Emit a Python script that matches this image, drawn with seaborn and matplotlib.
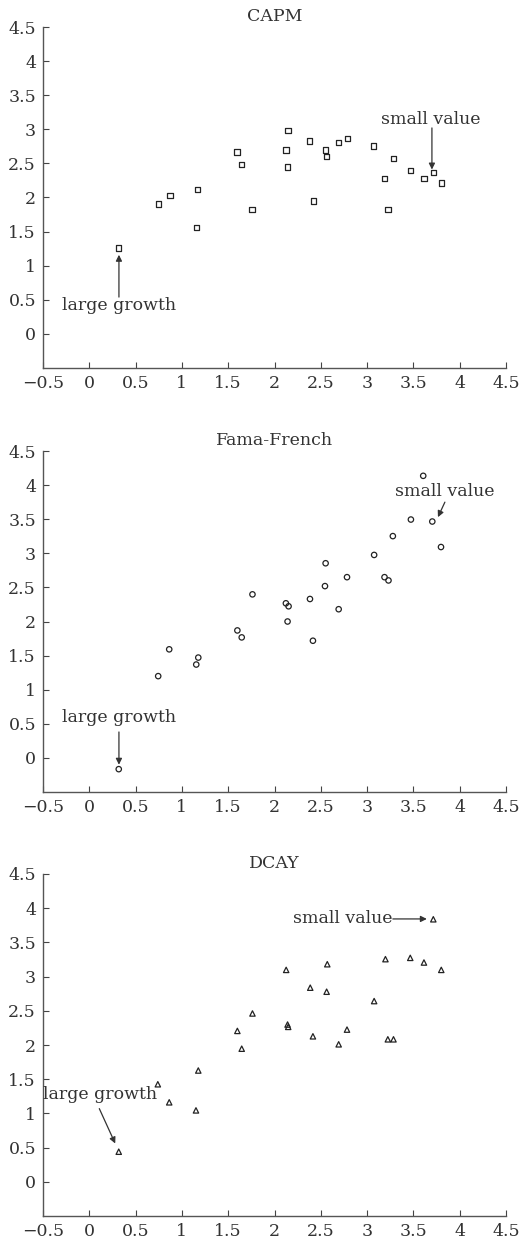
import matplotlib
matplotlib.use("Agg")
import matplotlib.pyplot as plt
import seaborn as sns
import numpy as np
import pandas as pd

# ---- data ----
x_capm = [0.314, 0.744, 0.870, 1.159, 1.170, 1.596, 1.646, 1.755, 2.123, 2.144, 2.141,
          2.379, 2.422, 2.552, 2.563, 2.690, 2.787, 3.072, 3.191, 3.282, 3.227, 3.469,
          3.614, 3.715, 3.801]
y_capm = [1.259, 1.907, 2.029, 1.556, 2.117, 2.668, 2.483, 1.820, 2.698, 2.980, 2.449,
          2.829, 1.951, 2.698, 2.600, 2.805, 2.863, 2.756, 2.283, 2.571, 1.824, 2.395,
          2.283, 2.366, 2.215]

x_ff = [0.318, 0.744, 0.863, 1.155, 1.177, 1.599, 1.646, 1.762, 2.123, 2.152, 2.141,
        2.383, 2.415, 2.552, 2.545, 2.693, 2.783, 3.076, 3.188, 3.231, 3.278, 3.473,
        3.606, 3.704, 3.798]
y_ff = [-0.165, 1.199, 1.592, 1.369, 1.471, 1.869, 1.767, 2.398, 2.267, 2.223, 2.000,
        2.330, 1.718, 2.854, 2.519, 2.180, 2.650, 2.976, 2.650, 2.602, 3.252, 3.495,
        4.136, 3.466, 3.092]

x_dcay = [0.318, 0.740, 0.863, 1.152, 1.177, 1.599, 1.646, 1.762, 2.126, 2.141, 2.148,
          2.386, 2.415, 2.570, 2.563, 2.693, 2.783, 3.076, 3.198, 3.224, 3.285, 3.466,
          3.614, 3.715, 3.801]
y_dcay = [0.440, 1.426, 1.162, 1.044, 1.627, 2.206, 1.946, 2.461, 3.098, 2.299, 2.265,
          2.838, 2.127, 3.181, 2.779, 2.010, 2.225, 2.642, 3.255, 2.083, 2.083, 3.274,
          3.206, 3.838, 3.098]

titles = ["CAPM", "Fama-French", "DCAY"]
markers = ["s", "o", "^"]
ticks = [-0.5, 0, 0.5, 1, 1.5, 2, 2.5, 3, 3.5, 4, 4.5]
yticks = [0, 0.5, 1, 1.5, 2, 2.5, 3, 3.5, 4, 4.5]
label_growth = "large growth"
label_value = "small value"

def fmt(v):
    s = "%g" % v
    return s.replace("-", "\u2212")

sns.set_theme(style="white")
plt.rcParams["font.family"] = ["DejaVu Serif", "Liberation Serif"]
plt.rcParams["axes.unicode_minus"] = True

W, H = 529, 1239
fig = plt.figure(figsize=(W / 100, H / 100), dpi=100)

left = 43 / W
width = (506 - 43) / W
panels = [(27, 368), (451, 792), (874, 1216)]

datasets = [(x_capm, y_capm), (x_ff, y_ff), (x_dcay, y_dcay)]
ink = "#333333"
fs = 12.5

# annotation specs: (text, text_xy, ha, arrow_tail, arrow_head)
annots = [
    [(label_growth, (0.32, 0.42), "center", (0.32, 0.54), (0.32, 1.16)),
     (label_value, (3.69, 3.15), "center", (3.70, 3.02), (3.70, 2.41))],
    [(label_growth, (0.32, 0.59), "center", (0.32, 0.38), (0.32, -0.10)),
     (label_value, (3.84, 3.90), "center", (3.84, 3.75), (3.765, 3.53))],
    [(label_growth, (0.735, 1.27), "right", (0.108, 1.07), (0.28, 0.56)),
     (label_value, (3.27, 3.843), "right", (3.278, 3.843), (3.645, 3.843))],
]

for i, ((top, bot), (xs, ys)) in enumerate(zip(panels, datasets)):
    ax = fig.add_axes([left, 1 - bot / H, width, (bot - top) / H])
    df = pd.DataFrame({"x": xs, "y": ys})
    sns.scatterplot(data=df, x="x", y="y", marker=markers[i], s=15,
                    facecolors="none", edgecolor="#222222", linewidth=0.9, ax=ax,
                    legend=False)
    ax.set_xlim(-0.5, 4.5)
    ax.set_ylim(-0.5, 4.5)
    ax.set_xticks(ticks)
    ax.set_xticklabels([fmt(t) for t in ticks])
    ax.set_yticks(yticks)
    ax.set_yticklabels([fmt(t) for t in yticks])
    ax.set_xlabel("")
    ax.set_ylabel("")
    ax.tick_params(direction="in", length=4, width=0.8, color="#444444",
                   labelsize=fs, labelcolor=ink, pad=5,
                   bottom=True, left=True)
    for side in ["top", "right"]:
        ax.spines[side].set_visible(False)
    for side in ["left", "bottom"]:
        ax.spines[side].set_color("#555555")
        ax.spines[side].set_linewidth(1.0)
    ax.set_title(titles[i], fontsize=fs, color=ink, pad=4)
    ax.set_facecolor("white")

    for txt, txy, ha, tail, head in annots[i]:
        ax.text(txy[0], txy[1], txt, fontsize=fs, color=ink,
                ha=ha, va="center")
        ax.annotate("", xy=head, xytext=tail,
                    arrowprops=dict(arrowstyle="-|>", color="#333333", lw=0.9,
                                    mutation_scale=9, shrinkA=0, shrinkB=0))

fig.savefig("out.png", dpi=100, facecolor="white")
